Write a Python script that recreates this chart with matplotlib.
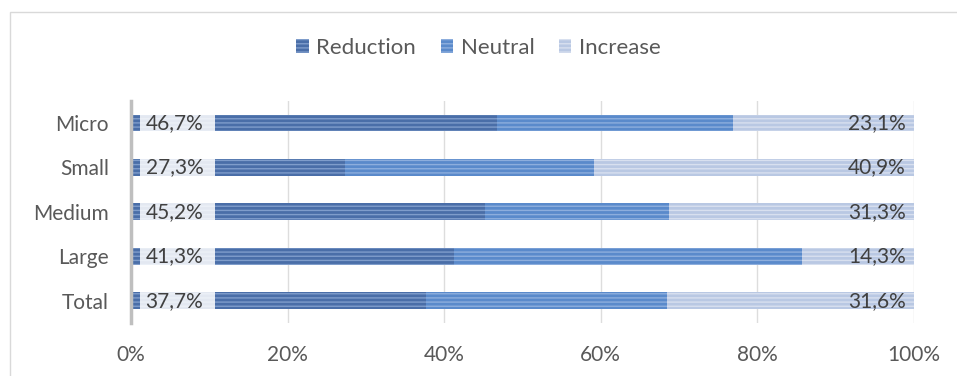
import matplotlib.pyplot as plt
from matplotlib.patches import Rectangle
import numpy as np

plt.rcParams['font.family'] = ['Lato', 'DejaVu Sans']

categories = ["Micro", "Small", "Medium", "Large", "Total"]
reduction = [46.7, 27.3, 45.2, 41.3, 37.7]
increase = [23.1, 40.9, 31.3, 14.3, 31.6]
neutral = [round(100 - r - i, 1) for r, i in zip(reduction, increase)]
series_names = ["Reduction", "Neutral", "Increase"]
xticks = [0, 20, 40, 60, 80, 100]

face_colors = ['#4A6EA8', '#5A8ACB', '#B9C8E3']
stripe_colors = ['#7F9DCB', '#8DAEDD', '#D8E0EF']
text_color = '#595959'
fs = 15

fig = plt.figure(figsize=(9.57, 3.76), dpi=100)
ax = fig.add_axes([0.1369, 0.141, 0.955 - 0.1369, 0.732 - 0.141])

# chart border (light gray, top/left visible)
fig.patches.append(Rectangle((10 / 957, -0.1), 1.2, (376 - 12) / 376 + 0.1,
                             transform=fig.transFigure, fill=False,
                             edgecolor='#D9D9D9', linewidth=1))

ypos = np.arange(len(categories))
height = 0.38
left = np.zeros(len(categories))
for vals, name, fc, sc in zip([reduction, neutral, increase], series_names, face_colors, stripe_colors):
    ax.barh(ypos, vals, left=left, height=height, color=fc, edgecolor=sc,
            linewidth=0, hatch='----', label=name, zorder=3)
    left = left + np.array(vals)

# white backing behind the left data labels
ax.barh(ypos, 9.6, left=1.15, height=height, color='white', alpha=0.85,
        linewidth=0, zorder=4)

# data labels
for y, r, i in zip(ypos, reduction, increase):
    ax.annotate(f"{r:.1f}%".replace('.', ','), xy=(0, y), xytext=(10.5, 0),
                textcoords='offset points', va='center', ha='left',
                fontsize=fs, color='#404040', zorder=5)
    ax.annotate(f"{i:.1f}%".replace('.', ','), xy=(100, y), xytext=(-6, 0),
                textcoords='offset points', va='center', ha='right',
                fontsize=fs, color='#404040', zorder=5)

ax.set_xlim(0, 100)
ax.set_ylim(len(categories) - 0.5, -0.5)
ax.set_xticks(xticks)
ax.set_xticklabels([f"{t}%" for t in xticks], fontsize=fs, color=text_color)
ax.set_yticks(ypos)
ax.set_yticklabels(categories, fontsize=fs, color=text_color)
ax.tick_params(axis='both', length=0)
ax.tick_params(axis='x', pad=16)
ax.tick_params(axis='y', pad=16)

ax.grid(axis='x', color='#DDDDDD', linewidth=1, zorder=0)
for s in ['top', 'right', 'bottom']:
    ax.spines[s].set_visible(False)
ax.spines['left'].set_color('#BFBFBF')
ax.spines['left'].set_linewidth(2.5)
ax.spines['left'].set_zorder(6)

leg = fig.legend(loc='center', bbox_to_anchor=(0.5, 1 - 48 / 376), ncol=3,
                 frameon=False, fontsize=16, handlelength=0.55, handleheight=0.55,
                 columnspacing=1.1, handletextpad=0.35)
for t in leg.get_texts():
    t.set_color(text_color)

fig.savefig("out.png", dpi=100)
